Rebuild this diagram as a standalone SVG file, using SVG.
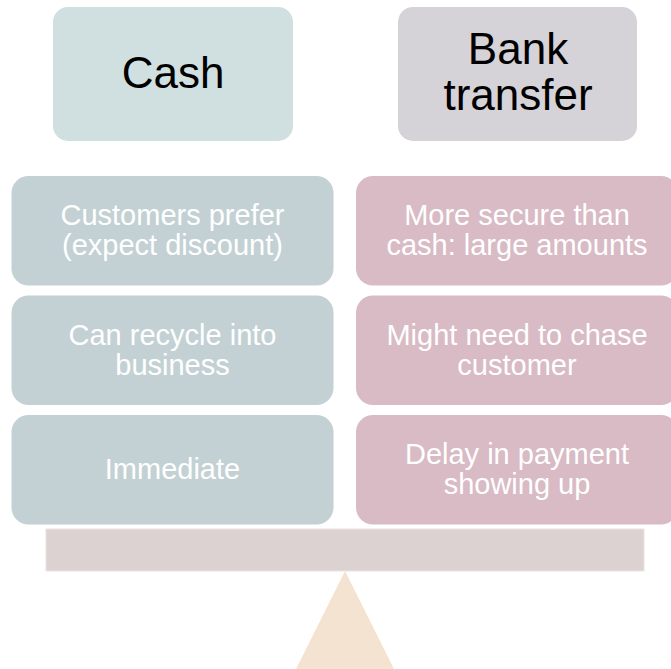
<svg xmlns="http://www.w3.org/2000/svg" width="671" height="669" viewBox="0 0 671 669">
<style>
.hd{font-family:"Liberation Sans",Arial,sans-serif;font-size:44px;fill:#000;text-anchor:middle}
.bd{font-family:"Liberation Sans",Arial,sans-serif;font-size:29px;fill:#fff;text-anchor:middle}
.l{fill:#c3d1d4}
.r{fill:#d8bbc4}
</style>
<rect width="671" height="669" fill="#fff"/>
<polygon id="fulcrum" points="345,571 290,681 400,681" fill="#f5e3d1"/>
<rect id="beam" x="46" y="529" width="598" height="42" fill="#dbd2d1" stroke="#ebe4e3" stroke-width="1"/>
<g id="cash">
<rect x="53" y="7" width="240" height="134" rx="15" fill="#d0dfdf"/>
<text class="hd" x="173" y="88">Cash</text>
</g>
<g id="bank">
<rect x="398" y="7" width="239" height="134" rx="15" fill="#d5d2d8"/>
<text class="hd" x="518" y="64">Bank</text>
<text class="hd" x="518" y="110">transfer</text>
</g>
<g id="c1">
<rect class="l" x="11.5" y="176" width="322" height="109.5" rx="17"/>
<text class="bd" x="172.5" y="225">Customers prefer</text>
<text class="bd" x="172.5" y="255">(expect discount)</text>
</g>
<g id="c2">
<rect class="l" x="11.5" y="295.5" width="322" height="109.5" rx="17"/>
<text class="bd" x="172.5" y="345">Can recycle into</text>
<text class="bd" x="172.5" y="375">business</text>
</g>
<g id="c3">
<rect class="l" x="11.5" y="415" width="322" height="109.5" rx="17"/>
<text class="bd" x="172.5" y="479">Immediate</text>
</g>
<g id="b1">
<rect class="r" x="356" y="176" width="322" height="109.5" rx="17"/>
<text class="bd" x="517" y="225">More secure than</text>
<text class="bd" x="517" y="255">cash: large amounts</text>
</g>
<g id="b2">
<rect class="r" x="356" y="295.5" width="322" height="109.5" rx="17"/>
<text class="bd" x="517" y="345">Might need to chase</text>
<text class="bd" x="517" y="375">customer</text>
</g>
<g id="b3">
<rect class="r" x="356" y="415" width="322" height="109.5" rx="17"/>
<text class="bd" x="517" y="464">Delay in payment</text>
<text class="bd" x="517" y="494">showing up</text>
</g>
<g id="connectors"/>
</svg>
